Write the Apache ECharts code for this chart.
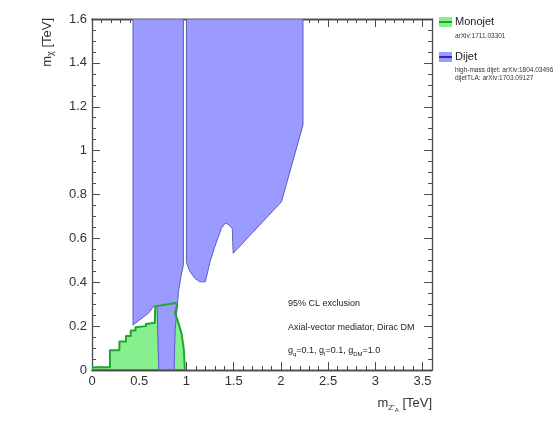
<!DOCTYPE html>
<html>
<head>
<meta charset="utf-8">
<script src="https://cdn.jsdelivr.net/npm/echarts@6.0.0/dist/echarts.min.js"></script>
<style>
  html, body { margin: 0; padding: 0; background: #fff; }
  #chart { width: 557px; height: 423px; }
</style>
</head>
<body>
<div id="chart"></div>
<script>
// Exclusion contours in the (m_Z'A, m_chi) plane, both in TeV.
// Monojet contour
const monojetMed = [0, 0, 0.19, 0.19, 0.29, 0.29, 0.36, 0.36, 0.41, 0.41, 0.46, 0.46, 0.57, 0.57, 0.665, 0.67, 0.88, 0.902, 0.878, 0.896, 0.948, 0.973, 0.983];
const monojetDM  = [0, 0.012, 0.012, 0.09, 0.09, 0.13, 0.13, 0.155, 0.155, 0.18, 0.18, 0.195, 0.20, 0.21, 0.215, 0.29, 0.305, 0.30, 0.258, 0.24, 0.167, 0.091, 0];

// Dijet contour, lower-mass lobe (TLA + high-mass)
const dijetLowMed = [0.434, 0.434, 0.60, 0.655, 0.69, 0.695, 0.70, 0.708, 0.870, 0.875, 0.881, 0.902, 0.915, 0.941, 0.9675, 0.9675];
const dijetLowDM  = [1.6, 0.205, 0.26, 0.292, 0.29, 0.20, 0.10, 0, 0, 0.10, 0.19, 0.283, 0.356, 0.424, 0.479, 1.6];

// Dijet contour, upper lobe
const dijetHighMed = [1.0, 1.0, 1.035, 1.09, 1.14, 1.20, 1.25, 1.30, 1.37, 1.41, 1.44, 1.485, 1.495, 2.006, 2.234, 2.234];
const dijetHighDM  = [1.6, 0.49, 0.45, 0.418, 0.402, 0.402, 0.494, 0.562, 0.646, 0.669, 0.665, 0.646, 0.532, 0.767, 1.117, 1.6];

// Axis ranges and ticks
const xMin = 0, xMax = 3.6, xMajor = 0.5, xMinor = 0.1;
const yMin = 0, yMax = 1.6, yMajor = 0.2;

const FONT = "'Liberation Sans', Arial, Helvetica, sans-serif";
const AXIS_COLOR = '#4a4a4a';
const TEXT_COLOR = '#333';

const GREEN_FILL = '#86f08f';
const GREEN_LINE = '#1fa82a';
const BLUE_FILL = '#9a9aff';
const BLUE_LINE = '#5c5cc0';
const BLUE_LEGEND_LINE = '#2a2aa8';

function polygonSeries(xs, ys, style, z) {
  const pts = xs.map((x, i) => [x, ys[i]]);
  return {
    type: 'custom',
    coordinateSystem: 'cartesian2d',
    xAxisIndex: 0,
    yAxisIndex: 0,
    data: pts,
    encode: { x: 0, y: 1 },
    clip: true,
    silent: true,
    z: z,
    renderItem: function (params, api) {
      if (params.dataIndex !== 0) return null;
      return {
        type: 'polygon',
        shape: { points: pts.map(p => api.coord(p)) },
        style: Object.assign({}, style)
      };
    }
  };
}

function xAxisDef(position, interval, tickLen, labels) {
  return {
    type: 'value', gridIndex: 0, position: position,
    min: xMin, max: xMax, interval: interval,
    axisLine: { show: true, onZero: false, lineStyle: { color: AXIS_COLOR, width: 1.3 } },
    axisTick: { show: true, inside: true, length: tickLen, lineStyle: { color: AXIS_COLOR, width: 1 } },
    splitLine: { show: false },
    axisLabel: labels ? {
      show: true, margin: 5, fontSize: 13, color: TEXT_COLOR, fontFamily: FONT,
      formatter: v => (Math.abs(v / xMajor - Math.round(v / xMajor)) < 1e-6 ? String(+v.toFixed(2)) : '')
    } : { show: false }
  };
}

function yAxisDef(position, labels) {
  return {
    type: 'value', gridIndex: 0, position: position,
    min: yMin, max: yMax, interval: yMajor,
    axisLine: { show: true, onZero: false, lineStyle: { color: AXIS_COLOR, width: 1.3 } },
    axisTick: { show: true, inside: true, length: 8, lineStyle: { color: AXIS_COLOR, width: 1 } },
    minorTick: { show: true, splitNumber: 4, length: 4, lineStyle: { color: AXIS_COLOR, width: 1 } },
    splitLine: { show: false },
    minorSplitLine: { show: false },
    axisLabel: labels ? {
      show: true, margin: 5, fontSize: 13, color: TEXT_COLOR, fontFamily: FONT,
      formatter: v => String(+v.toFixed(2))
    } : { show: false }
  };
}

const chart = echarts.init(document.getElementById('chart'), null, { renderer: 'canvas' });

const option = {
  animation: false,
  backgroundColor: '#fff',
  grid: { left: 92, top: 19, width: 340, height: 351, containLabel: false },
  xAxis: [
    xAxisDef('bottom', xMajor, 8, true),
    xAxisDef('bottom', xMinor, 4, false),
    xAxisDef('top', xMajor, 8, false),
    xAxisDef('top', xMinor, 4, false)
  ],
  yAxis: [
    yAxisDef('left', true),
    yAxisDef('right', false)
  ],
  series: [
    polygonSeries(monojetMed, monojetDM, { fill: GREEN_FILL, stroke: null }, 1),
    polygonSeries(dijetLowMed, dijetLowDM, { fill: BLUE_FILL, stroke: BLUE_LINE, lineWidth: 1 }, 2),
    polygonSeries(dijetHighMed, dijetHighDM, { fill: BLUE_FILL, stroke: BLUE_LINE, lineWidth: 1 }, 2),
    polygonSeries(monojetMed, monojetDM, { fill: null, stroke: GREEN_LINE, lineWidth: 2, lineJoin: 'round' }, 3)
  ],
  graphic: [
    // axis titles
    {
      type: 'text', x: 432, y: 403,
      style: {
        text: "{m|m}{s|Z'}{ss|A}{m| [TeV]}",
        align: 'right', verticalAlign: 'middle', fill: TEXT_COLOR, font: '13px ' + FONT,
        rich: {
          m: { fontSize: 13, fontFamily: FONT, fill: TEXT_COLOR },
          s: { fontSize: 8, fontFamily: FONT, fill: TEXT_COLOR, padding: [9, 0, 0, 0] },
          ss: { fontSize: 6, fontFamily: FONT, fill: TEXT_COLOR, padding: [15, 0, 0, 0] }
        }
      }
    },
    {
      type: 'text', x: 47, y: 18, rotation: Math.PI / 2,
      style: {
        text: '{m|m}{s|χ}{m| [TeV]}',
        align: 'right', verticalAlign: 'middle', fill: TEXT_COLOR, font: '13px ' + FONT,
        rich: {
          m: { fontSize: 13, fontFamily: FONT, fill: TEXT_COLOR },
          s: { fontSize: 9, fontFamily: FONT, fill: TEXT_COLOR, padding: [8, 0, 0, 0] }
        }
      }
    },
    // in-plot annotations
    {
      type: 'text', x: 288, y: 304,
      style: { text: '95% CL exclusion', font: '9px ' + FONT, fill: '#222', verticalAlign: 'middle' }
    },
    {
      type: 'text', x: 288, y: 328,
      style: { text: 'Axial-vector mediator, Dirac DM', font: '9px ' + FONT, fill: '#222', verticalAlign: 'middle' }
    },
    {
      type: 'text', x: 288, y: 351,
      style: {
        text: '{t|g}{s|q}{t|=0.1, g}{s|l}{t|=0.1, g}{s|DM}{t|=1.0}',
        verticalAlign: 'middle', fill: '#222', font: '9px ' + FONT,
        rich: {
          t: { fontSize: 9, fontFamily: FONT, fill: '#222' },
          s: { fontSize: 6, fontFamily: FONT, fill: '#222', padding: [6, 0, 0, 0] }
        }
      }
    },
    // legend: monojet
    { type: 'rect', shape: { x: 439, y: 17, width: 13, height: 10 }, style: { fill: GREEN_FILL } },
    { type: 'line', shape: { x1: 439, y1: 22, x2: 452, y2: 22 }, style: { stroke: GREEN_LINE, lineWidth: 2 } },
    { type: 'text', x: 455, y: 22, style: { text: 'Monojet', font: '11px ' + FONT, fill: '#222', verticalAlign: 'middle' } },
    { type: 'text', x: 455, y: 36, style: { text: 'arXiv:1711.03301', font: '6.5px ' + FONT, fill: '#333', verticalAlign: 'middle' } },
    // legend: dijet
    { type: 'rect', shape: { x: 439, y: 52, width: 13, height: 10 }, style: { fill: BLUE_FILL } },
    { type: 'line', shape: { x1: 439, y1: 57, x2: 452, y2: 57 }, style: { stroke: BLUE_LEGEND_LINE, lineWidth: 2 } },
    { type: 'text', x: 455, y: 57, style: { text: 'Dijet', font: '11px ' + FONT, fill: '#222', verticalAlign: 'middle' } },
    { type: 'text', x: 455, y: 70, style: { text: 'high-mass dijet: arXiv:1804.03496', font: '6.5px ' + FONT, fill: '#333', verticalAlign: 'middle' } },
    { type: 'text', x: 455, y: 78, style: { text: 'dijetTLA: arXiv:1703.09127', font: '6.5px ' + FONT, fill: '#333', verticalAlign: 'middle' } }
  ]
};

chart.setOption(option);
</script>
</body>
</html>
